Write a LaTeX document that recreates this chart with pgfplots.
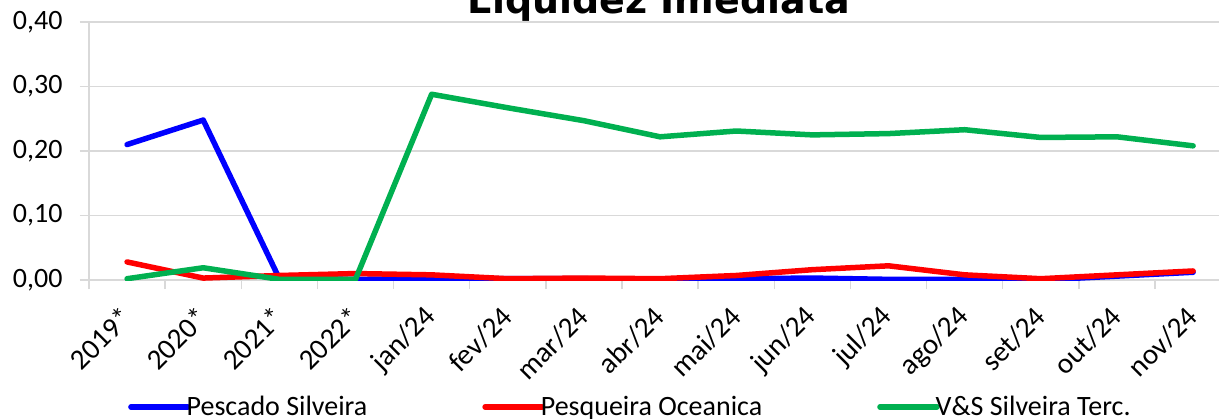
\documentclass[border=0pt]{standalone}
\usepackage{pgfplots}
\pgfplotsset{compat=1.18}
\usepackage{fontspec}
\setmainfont{Carlito}
\newfontfamily\titlefont{DejaVu Sans}
\definecolor{gridgray}{HTML}{D9D9D9}
\definecolor{exgreen}{HTML}{00B050}
\begin{document}
\begin{tikzpicture}
\begin{axis}[
  name=ax,
  at={(0,0)}, anchor=south west,
  scale only axis,
  width=1130pt, height=258pt,
  xmin=-0.5, xmax=14.34,
  ymin=0, ymax=0.4,
  xtick={0,...,14},
  xticklabels={2019*,2020*,2021*,2022*,jan/24,fev/24,mar/24,abr/24,mai/24,jun/24,jul/24,ago/24,set/24,out/24,nov/24},
  minor xtick={-0.5,0.5,...,14.5},
  ytick={0,0.1,0.2,0.3,0.4},
  axis x line*=bottom, axis y line*=left,
  axis line style={-, draw=gridgray, line width=1.5pt},
  ymajorgrids, grid style={draw=gridgray, line width=1.5pt},
  tick align=outside,
  major tick length=9pt, minor tick length=9pt,
  tick style={draw=gridgray, line width=1.5pt},
  major x tick style={draw=none},
  /pgf/number format/.cd, fixed, fixed zerofill, precision=2, use comma, assume math mode=true,
  /pgfplots/.cd,
  ticklabel style={font=\fontsize{28}{32}\selectfont},
  yticklabel style={xshift=-14pt},
  xticklabel style={font=\fontsize{29}{32}\selectfont, xshift=2pt, yshift=-21pt, rotate=45, anchor=east},
  title={Liquidez Imediata},
  title style={font=\titlefont\bfseries\fontsize{38}{40}\selectfont, at={(0.5,1)}, anchor=base, yshift=3pt, xshift=5pt},
  legend columns=3,
  legend image code/.code={\path (0pt,0pt) -- (57pt,0pt);\draw[line width=5.5pt, line cap=round] (2.75pt,0pt) -- (54.25pt,0pt);},
  legend style={at={(0.0345,-0.492)}, anchor=west, draw=none, fill=none, inner sep=0pt,
    font=\fontsize{28}{32}\selectfont, nodes={inner xsep=0pt},
    /tikz/every odd column/.append style={column sep=-4pt},
    /tikz/every even column/.append style={column sep=115pt}},
  legend cell align=left,
  every axis plot/.append style={line width=5.5pt, line cap=round, line join=round},
]
\addplot[color=blue] coordinates {(0,0.210) (1,0.248) (2,0.002) (3,0.001) (4,0.002) (5,0.002) (6,0.002) (7,0.001) (8,0.002) (9,0.003) (10,0.001) (11,0.001) (12,0.000) (13,0.006) (14,0.012)};
\addlegendentry{Pescado Silveira}
\addplot[color=red] coordinates {(0,0.028) (1,0.003) (2,0.007) (3,0.010) (4,0.008) (5,0.002) (6,0.003) (7,0.002) (8,0.007) (9,0.016) (10,0.022) (11,0.008) (12,0.002) (13,0.008) (14,0.014)};
\addlegendentry{Pesqueira Oceanica}
\addplot[color=exgreen] coordinates {(0,0.002) (1,0.019) (2,0.001) (3,0.001) (4,0.288) (5,0.267) (6,0.247) (7,0.222) (8,0.231) (9,0.225) (10,0.227) (11,0.233) (12,0.221) (13,0.222) (14,0.208)};
\addlegendentry{V\&S Silveira Terc.}
\end{axis}
\pgfresetboundingbox
\path[use as bounding box] (ax.south west) ++(-89pt,-138pt) rectangle ++(1219pt,418pt);
\end{tikzpicture}
\end{document}
